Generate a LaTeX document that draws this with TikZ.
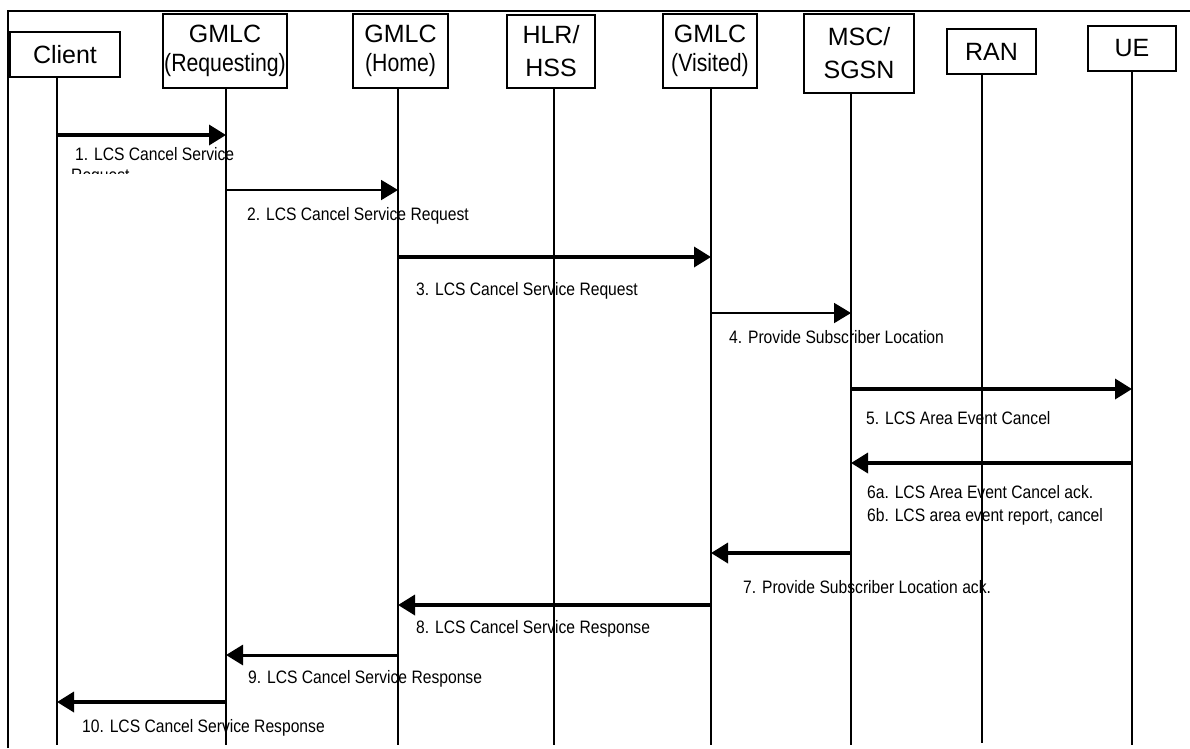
\documentclass[tikz,border=0pt]{standalone}
\usepackage{fontspec}
\setmainfont{Liberation Sans}
\newfontfamily\hdrfont{Liberation Sans}
\newfontfamily\parfont[FakeStretch=0.85]{Liberation Sans}
\newfontfamily\lblfont[FakeStretch=0.87]{Liberation Sans}
\usetikzlibrary{arrows.meta}
\begin{document}
\begin{tikzpicture}[x=1pt,y=-1pt,
  entity/.style={draw, line width=1.2pt, inner sep=0pt, align=center,
    font=\hdrfont\fontsize{25}{29}\selectfont},
  entitytall/.style={entity, font=\hdrfont\fontsize{25}{33}\selectfont},
  life/.style={line width=1.3pt},
  frameline/.style={line width=2.2pt},
  msgthick/.style={line width=3.5pt, -{Triangle[length=17pt,width=20pt]}},
  msgmid/.style={line width=3pt, -{Triangle[length=17pt,width=20pt]}},
  msgthin/.style={line width=2pt, -{Triangle[length=17pt,width=20pt]}},
  lbl/.style={inner sep=0pt, anchor=base west, font=\lblfont\fontsize{18}{22}\selectfont}]
\useasboundingbox (0,0) rectangle (1190,748);
\fill[white] (0,0) rectangle (1190,748);
% frame
\coordinate (fTL) at (8,11);
\coordinate (fTR) at (1190,11);
\coordinate (fBL) at (8,748);
\draw[frameline] (fBL) -- (fTL) -- (fTR);
% entities
\node[entity, minimum width=110pt, minimum height=45pt] (client) at (65,54.5) {Client};
\node[entity, minimum width=124pt, minimum height=74pt] (req) at (225,51) {GMLC\\{\parfont(Requesting)}};
\node[entity, minimum width=95pt, minimum height=74pt] (home) at (400.5,51) {GMLC\\{\parfont(Home)}};
\node[entitytall, minimum width=88pt, minimum height=73pt] (hlr) at (551,51.5) {HLR/\\HSS};
\node[entity, minimum width=94pt, minimum height=74pt] (vis) at (710,51) {GMLC\\{\parfont(Visited)}};
\node[entitytall, minimum width=110pt, minimum height=79pt] (msc) at (859,53.5) {MSC/\\SGSN};
\node[entity, minimum width=89pt, minimum height=45pt] (ran) at (991.5,51.5) {RAN};
\node[entity, minimum width=88pt, minimum height=45pt] (ue) at (1132,48.5) {UE};
% lifeline bottoms
\coordinate (clX) at (57,745);
\coordinate (rqX) at (226,745);
\coordinate (hmX) at (398,745);
\coordinate (hlX) at (554,745);
\coordinate (viX) at (711,745);
\coordinate (msX) at (851,745);
\coordinate (raX) at (982,743);
\coordinate (ueX) at (1132,745);
\draw[life] (client.south -| clX) -- (clX);
\draw[life] (req.south -| rqX) -- (rqX);
\draw[life] (home.south -| hmX) -- (hmX);
\draw[life] (hlr.south -| hlX) -- (hlX);
\draw[life] (vis.south -| viX) -- (viX);
\draw[life] (msc.south -| msX) -- (msX);
\draw[life] (ran.south -| raX) -- (raX);
\draw[life] (ue.south -| ueX) -- (ueX);
% message levels
\coordinate (y1) at (0,135);
\coordinate (y2) at (0,190);
\coordinate (y3) at (0,257);
\coordinate (y4) at (0,313);
\coordinate (y5) at (0,389);
\coordinate (y6) at (0,463);
\coordinate (y7) at (0,553);
\coordinate (y8) at (0,605);
\coordinate (y9) at (0,655);
\coordinate (y10) at (0,702);
% messages
\draw[msgthick] (clX |- y1) -- (rqX |- y1);
\draw[msgthin]  (rqX |- y2) -- (hmX |- y2);
\draw[msgthick] (hmX |- y3) -- (viX |- y3);
\draw[msgthin]  (viX |- y4) -- (msX |- y4);
\draw[msgthick] (msX |- y5) -- (ueX |- y5);
\draw[msgthick] (ueX |- y6) -- (msX |- y6);
\draw[msgthick] (msX |- y7) -- (viX |- y7);
\draw[msgthick] (viX |- y8) -- (hmX |- y8);
\draw[msgmid]   (hmX |- y9) -- (rqX |- y9);
\draw[msgthick] (rqX |- y10) -- (clX |- y10);
% labels
\node[lbl] (l1) at (75,160) {1. LCS Cancel Service};
\begin{scope}
\clip (60,163) rectangle (300,173);
\node[lbl] (l1b) at (71,181) {Request};
\end{scope}
\node[lbl] (l2) at (247,220) {2. LCS Cancel Service Request};
\node[lbl] (l3) at (416,295) {3. LCS Cancel Service Request};
\node[lbl] (l4) at (729,343) {4. Provide Subscriber Location};
\node[lbl] (l5) at (866,424) {5. LCS Area Event Cancel};
\node[lbl] (l6a) at (867,498) {6a. LCS Area Event Cancel ack.};
\node[lbl] (l6b) at (867,521) {6b. LCS area event report, cancel};
\node[lbl] (l7) at (743,593) {7. Provide Subscriber Location ack.};
\node[lbl] (l8) at (416,633) {8. LCS Cancel Service Response};
\node[lbl] (l9) at (248,683) {9. LCS Cancel Service Response};
\node[lbl] (l10) at (82,732) {10. LCS Cancel Service Response};
\end{tikzpicture}
\end{document}
